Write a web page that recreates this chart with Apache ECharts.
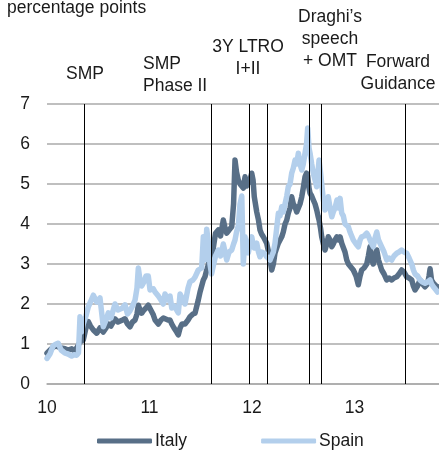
<!DOCTYPE html>
<html>
<head>
<meta charset="utf-8">
<script src="https://cdn.jsdelivr.net/npm/echarts@6/dist/echarts.min.js"></script>
<style>
  html, body { margin: 0; padding: 0; background: #fff; }
  #chart { width: 439px; height: 451px; }
</style>
</head>
<body>
<div id="chart"></div>
<script>
// dates as decimal years
var dates = [
  2010.000, 2010.029, 2010.059, 2010.088, 2010.110, 2010.137, 2010.176, 2010.205, 2010.241, 2010.263,
  2010.290, 2010.307, 2010.322, 2010.337, 2010.354, 2010.380, 2010.403, 2010.424, 2010.452, 2010.485,
  2010.517, 2010.549, 2010.576, 2010.598, 2010.624, 2010.663, 2010.693, 2010.712, 2010.737, 2010.761,
  2010.785, 2010.810, 2010.834, 2010.859, 2010.878, 2010.891, 2010.907, 2010.924, 2010.946, 2010.966,
  2010.988, 2011.005, 2011.037, 2011.054, 2011.086, 2011.112, 2011.135, 2011.151, 2011.180, 2011.200,
  2011.217, 2011.239, 2011.265, 2011.281, 2011.298, 2011.317, 2011.346, 2011.376, 2011.395, 2011.424,
  2011.444, 2011.476, 2011.493, 2011.509, 2011.525, 2011.541, 2011.558, 2011.576, 2011.590, 2011.605,
  2011.622, 2011.644, 2011.671, 2011.693, 2011.720, 2011.737, 2011.753, 2011.776, 2011.802, 2011.820,
  2011.834, 2011.849, 2011.866, 2011.883, 2011.900, 2011.915, 2011.932, 2011.946, 2011.964, 2011.980,
  2011.997, 2012.010, 2012.022, 2012.046, 2012.063, 2012.078, 2012.093, 2012.110, 2012.127, 2012.143,
  2012.161, 2012.176, 2012.192, 2012.208, 2012.224, 2012.241, 2012.257, 2012.273, 2012.290, 2012.305,
  2012.322, 2012.339, 2012.354, 2012.371, 2012.387, 2012.403, 2012.420, 2012.436, 2012.452, 2012.468,
  2012.485, 2012.500, 2012.517, 2012.532, 2012.543, 2012.556, 2012.566, 2012.582, 2012.598, 2012.615,
  2012.631, 2012.644, 2012.654, 2012.668, 2012.680, 2012.696, 2012.712, 2012.729, 2012.744, 2012.761,
  2012.778, 2012.793, 2012.810, 2012.829, 2012.842, 2012.859, 2012.875, 2012.891, 2012.907, 2012.924,
  2012.940, 2012.956, 2012.988, 2013.015, 2013.037, 2013.054, 2013.070, 2013.093, 2013.119, 2013.135,
  2013.151, 2013.168, 2013.183, 2013.200, 2013.217, 2013.234, 2013.265, 2013.288, 2013.314, 2013.337,
  2013.363, 2013.385, 2013.412, 2013.434, 2013.460, 2013.483, 2013.509, 2013.532, 2013.558, 2013.574,
  2013.590, 2013.615, 2013.639, 2013.663, 2013.688, 2013.712, 2013.727, 2013.737, 2013.751, 2013.769,
  2013.795, 2013.810
]

var italy = [
  0.77, 0.85, 0.92, 0.95, 0.93, 0.90, 0.88, 0.85, 0.88, 0.83,
  0.90, 0.95, 1.05, 1.00, 1.10, 1.40, 1.56, 1.45, 1.35, 1.27,
  1.40, 1.30, 1.40, 1.50, 1.45, 1.63, 1.55, 1.53, 1.60, 1.63,
  1.50, 1.43, 1.55, 1.60, 1.75, 1.97, 1.85, 1.77, 1.85, 1.90,
  1.97, 1.93, 1.73, 1.60, 1.50, 1.60, 1.65, 1.68, 1.60, 1.60,
  1.50, 1.40, 1.30, 1.23, 1.40, 1.50, 1.50, 1.60, 1.68, 1.75,
  1.77, 2.10, 2.30, 2.35, 2.60, 2.68, 2.85, 3.00, 3.20, 3.00,
  3.40, 3.77, 3.85, 3.70, 4.10, 3.90, 3.77, 3.85, 3.93, 4.50,
  5.60, 5.30, 5.10, 5.00, 5.00, 4.90, 5.18, 4.95, 5.00, 5.10,
  5.27, 5.10, 4.68, 4.30, 4.10, 3.85, 3.75, 3.68, 3.60, 3.52,
  3.30, 3.10, 2.85, 3.00, 3.27, 3.40, 3.52, 3.50, 3.68, 3.80,
  4.00, 4.10, 4.27, 4.40, 4.68, 4.50, 4.43, 4.30, 4.35, 4.50,
  4.68, 4.90, 5.18, 5.27, 5.20, 4.90, 4.77, 4.70, 4.60, 4.50,
  4.35, 4.20, 4.10, 3.90, 3.68, 3.50, 3.35, 3.50, 3.68, 3.60,
  3.43, 3.50, 3.60, 3.68, 3.60, 3.68, 3.52, 3.50, 3.30, 3.10,
  3.00, 3.00, 2.85, 2.70, 2.48, 2.70, 2.85, 2.90, 3.00, 3.20,
  3.43, 3.10, 3.00, 3.20, 3.35, 3.10, 2.85, 2.75, 2.60, 2.65,
  2.60, 2.65, 2.68, 2.75, 2.85, 2.80, 2.68, 2.65, 2.60, 2.45,
  2.35, 2.45, 2.60, 2.50, 2.43, 2.50, 2.70, 2.88, 2.60, 2.52,
  2.45, 2.43
]

var spain = [
  0.64, 0.75, 0.95, 1.00, 1.02, 0.85, 0.77, 0.75, 0.70, 0.73,
  0.72, 0.78, 1.68, 1.30, 1.50, 1.70, 1.93, 2.05, 2.22, 2.05,
  2.15, 1.43, 1.60, 1.78, 1.65, 2.00, 1.85, 1.83, 1.90, 1.98,
  1.75, 1.83, 1.95, 2.10, 2.40, 2.90, 2.60, 2.45, 2.55, 2.70,
  2.70, 2.35, 2.38, 2.30, 2.20, 2.10, 2.00, 2.25, 2.10, 2.20,
  1.90, 1.95, 1.85, 1.78, 2.25, 2.20, 2.00, 2.40, 2.56, 2.60,
  2.67, 2.85, 2.90, 2.90, 3.68, 3.10, 3.87, 3.50, 3.00, 2.75,
  2.70, 3.20, 3.35, 3.20, 3.50, 3.30, 3.10, 3.30, 3.35, 3.50,
  3.60, 3.80, 3.95, 4.50, 4.70, 3.00, 3.68, 3.40, 3.28, 3.50,
  3.68, 3.50, 3.40, 3.52, 3.30, 3.18, 3.30, 3.35, 3.25, 3.18,
  3.20, 3.10, 3.15, 3.30, 3.52, 3.90, 4.27, 4.20, 4.43, 4.30,
  4.50, 4.70, 4.93, 5.00, 5.27, 5.40, 5.60, 5.50, 5.77, 5.50,
  5.35, 5.50, 5.77, 6.00, 6.40, 5.90, 5.77, 5.50, 5.27, 5.10,
  4.93, 5.30, 5.60, 5.30, 5.00, 4.60, 4.35, 4.50, 4.68, 4.40,
  4.18, 4.30, 4.40, 4.60, 4.40, 4.64, 4.27, 4.20, 4.00, 3.95,
  3.93, 3.80, 3.60, 3.50, 3.43, 3.60, 3.68, 3.70, 3.77, 3.70,
  3.68, 3.50, 3.43, 3.65, 3.80, 3.60, 3.43, 3.30, 3.10, 3.15,
  3.10, 3.20, 3.27, 3.30, 3.35, 3.30, 3.27, 3.15, 3.00, 2.85,
  2.75, 2.70, 2.60, 2.55, 2.52, 2.55, 2.60, 2.60, 2.50, 2.43,
  2.35, 2.30
]

// policy events (decimal years)
var eventDates = [2010.355, 2011.596, 2011.970, 2012.155, 2012.564, 2012.680, 2013.495]

var xTicks = [2010, 2011, 2012, 2013]

function pairs (xs, ys) {
  return xs.map(function (x, i) { return [x, ys[i]] })
}

var chart = echarts.init(document.getElementById('chart'))
var font = 'Liberation Sans, Arial, sans-serif'
var txt = '#1a1a1a'
var fs = 17.5

function label (text, x, y, align) {
  return {
    type: 'text',
    x: x,
    y: y,
    style: {
      text: text,
      font: fs + 'px ' + font,
      fill: txt,
      align: align || 'center',
      verticalAlign: 'middle',
      lineHeight: 22
    }
  }
}

var option = {
  animation: false,
  textStyle: { fontFamily: font },
  grid: { left: 47, right: 0, top: 104, bottom: 67 },
  legend: {
    left: 97,
    top: 432,
    padding: 0,
    itemWidth: 55,
    itemHeight: 5,
    itemGap: 74,
    icon: 'roundRect',
    textStyle: { fontSize: fs, color: txt, padding: [0, 0, 0, -2] },
    data: ['Italy', 'Spain']
  },
  xAxis: {
    type: 'value',
    min: 2010,
    max: 2013.824,
    interval: 1,
    axisLine: { show: true, lineStyle: { color: '#aaaaaa', width: 1.5 } },
    axisTick: { show: false },
    splitLine: { show: false },
    axisLabel: {
      margin: 15,
      fontSize: fs,
      color: txt,
      showMaxLabel: false,
      formatter: function (v) {
        return xTicks.indexOf(v) >= 0 ? String(v - 2000) : ''
      }
    }
  },
  yAxis: {
    type: 'value',
    min: 0,
    max: 7,
    interval: 1,
    axisLine: { show: false },
    axisTick: { show: false },
    axisLabel: { margin: 17, fontSize: fs, color: txt },
    splitLine: { lineStyle: { color: '#aaaaaa', width: 1.5 } }
  },
  graphic: [
    label('percentage points', 7, 8, 'left'),
    label('SMP', 85, 74),
    label('SMP\nPhase II', 143, 75.5, 'left'),
    label('3Y LTRO\nI+II', 248, 58.5),
    label('Draghi\u2019s\nspeech\n+ OMT', 330, 39),
    label('Forward\nGuidance', 398, 73)
  ],
  series: [
    {
      name: 'events',
      type: 'line',
      data: [],
      z: 1,
      silent: true,
      markLine: {
        silent: true,
        symbol: 'none',
        label: { show: false },
        lineStyle: { color: '#000', width: 1, type: 'solid' },
        data: eventDates.map(function (d) { return { xAxis: d } })
      }
    },
    {
      name: 'Italy',
      type: 'line',
      z: 2,
      showSymbol: false,
      color: '#586f87',
      lineStyle: { width: 5.5, color: '#586f87', cap: 'round', join: 'round' },
      data: pairs(dates, italy)
    },
    {
      name: 'Spain',
      type: 'line',
      z: 3,
      showSymbol: false,
      color: '#b3cfec',
      lineStyle: { width: 5.5, color: '#b3cfec', cap: 'round', join: 'round' },
      data: pairs(dates, spain)
    }
  ]
}

chart.setOption(option)
</script>
</body>
</html>
